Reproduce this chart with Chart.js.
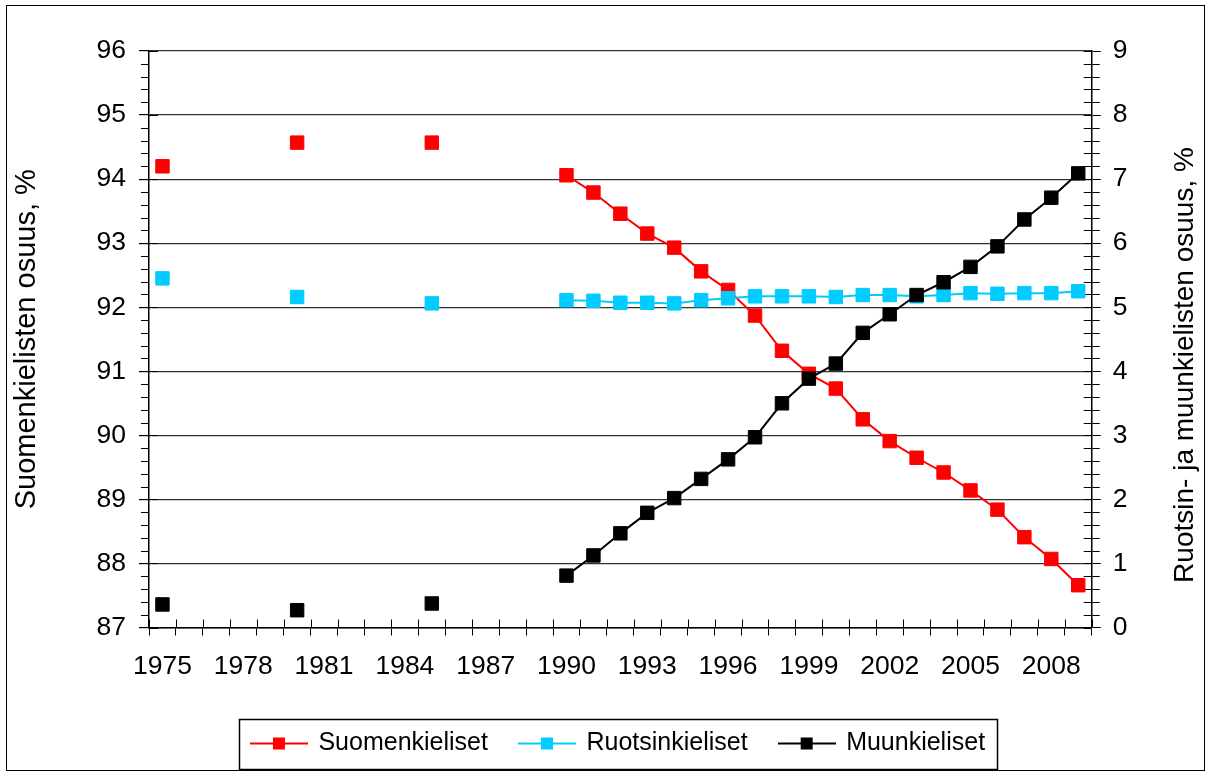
<!DOCTYPE html>
<html><head><meta charset="utf-8">
<script src="https://cdn.jsdelivr.net/npm/chart.js@4/dist/chart.umd.min.js"></script>
<style>html,body{margin:0;padding:0;background:#fff;overflow:hidden}</style>
</head><body>
<canvas id="c" width="1211" height="773"></canvas>
<script>
const years = ['1975','1976','1977','1978','1979','1980','1981','1982','1983','1984','1985','1986','1987','1988','1989',
  '1990','1991','1992','1993','1994','1995','1996','1997','1998','1999','2000','2001','2002','2003','2004','2005','2006','2007','2008','2009'];
const suomi = [94.20,null,null,null,null,94.57,null,null,null,null,94.57,null,null,null,null,
  94.06,93.79,93.46,93.15,92.93,92.56,92.27,91.87,91.32,90.96,90.73,90.25,89.91,89.65,89.42,89.14,88.84,88.41,88.07,87.66];
const ruotsi = [5.45,null,null,null,null,5.16,null,null,null,null,5.06,null,null,null,null,
  5.11,5.10,5.07,5.07,5.06,5.11,5.14,5.17,5.17,5.17,5.16,5.19,5.19,5.17,5.19,5.22,5.21,5.22,5.22,5.25];
const muu = [0.36,null,null,null,null,0.27,null,null,null,null,0.375,null,null,null,null,
  0.81,1.125,1.47,1.79,2.02,2.32,2.625,2.97,3.50,3.885,4.12,4.60,4.89,5.19,5.39,5.63,5.95,6.37,6.71,7.09];
const seriesNames = ['Suomenkieliset','Ruotsinkieliset','Muunkieliset'];
const leftTitle = 'Suomenkielisten osuus, %';
const rightTitle = 'Ruotsin- ja muunkielisten osuus, %';

const RED='#FF0000', BLUE='#00CCFF', BLACK='#000000';
const FONT = "'Liberation Sans', Arial, sans-serif";
const MINOR_PER_MAJOR = 5;

function legendIcon(color){
  const c=document.createElement('canvas'); c.width=58; c.height=16;
  const g=c.getContext('2d');
  g.strokeStyle=color; g.lineWidth=2; g.beginPath(); g.moveTo(0,8); g.lineTo(58,8); g.stroke();
  g.fillStyle=color; g.fillRect(23,2,12,12);
  return c;
}
const icons=[legendIcon(RED),legendIcon(BLUE),legendIcon(BLACK)];
const LEGEND_SHIFT = 13;

const frame = {
  id:'frame',
  afterLayout(chart){
    const lg=chart.legend;
    lg.left+=LEGEND_SHIFT; lg.right+=LEGEND_SHIFT;
    lg.legendHitBoxes.forEach(h=>{h.left+=LEGEND_SHIFT;});
  },
  beforeDraw(chart){
    const g=chart.ctx; g.save(); g.fillStyle='#fff'; g.fillRect(0,0,chart.width,chart.height); g.restore();
  },
  beforeDatasetsDraw(chart){
    const g=chart.ctx, yl=chart.scales.y, yr=chart.scales.y1, a=chart.chartArea;
    g.save(); g.strokeStyle='#000'; g.lineWidth=1; g.beginPath();
    const n=years.length, w=(a.right-a.left)/n;
    // category tick marks also reach into the plot
    for(let i=0;i<=n;i++){ const x=Math.round(a.left+i*w)+0.5; g.moveTo(x,a.bottom); g.lineTo(x,a.bottom-8); }
    // left axis: major ticks cross the axis, minor ticks outside
    yl.ticks.forEach(t=>{ const y=Math.round(yl.getPixelForValue(t.value))+0.5; g.moveTo(a.left,y); g.lineTo(a.left+9,y); });
    const lStep=(yl.max-yl.min)/((yl.ticks.length-1)*MINOR_PER_MAJOR);
    for(let k=0;k<(yl.ticks.length-1)*MINOR_PER_MAJOR;k++){
      if(k%MINOR_PER_MAJOR===0) continue;
      const y=Math.round(yl.getPixelForValue(yl.min+k*lStep))+0.5; g.moveTo(a.left-8,y); g.lineTo(a.left,y);
    }
    // right axis: all ticks cross the axis
    const rStep=(yr.max-yr.min)/((yr.ticks.length-1)*MINOR_PER_MAJOR);
    for(let k=0;k<=(yr.ticks.length-1)*MINOR_PER_MAJOR;k++){
      const y=Math.round(yr.getPixelForValue(yr.min+k*rStep))+0.5;
      g.moveTo(a.right-8,y); g.lineTo(a.right+(k%MINOR_PER_MAJOR===0?0:8),y);
    }
    g.stroke(); g.restore();
  },
  afterDraw(chart){
    const g=chart.ctx, hb=chart.legend.legendHitBoxes;
    g.save(); g.strokeStyle='#000'; g.lineWidth=1.5;
    const l=hb[0].left-13, r=hb[hb.length-1].left+hb[hb.length-1].width+12;
    const t=hb[0].top-12, b=hb[0].top+hb[0].height+13;
    g.strokeRect(Math.round(l)+0.5,Math.round(t)+0.5,Math.round(r-l),Math.round(b-t));
    g.lineWidth=1; g.strokeRect(6.5,5.5,1198,765);
    // right axis title, reading upward as in the original
    g.translate(1185, 365); g.rotate(-Math.PI/2);
    g.fillStyle='#000'; g.font="28px "+FONT; g.textAlign='center'; g.textBaseline='middle';
    g.fillText(rightTitle,0,0);
    g.restore();
  }
};

const ds = (label,data,color,axis,order)=>({
  label, data, yAxisID:axis, order,
  borderColor:color, backgroundColor:color, borderWidth:2,
  pointStyle:'rect', pointRadius:9.5, pointHoverRadius:9.5,
  pointBackgroundColor:color, pointBorderColor:color, pointBorderWidth:1,
  spanGaps:false, tension:0
});

new Chart(document.getElementById('c'),{
  type:'line',
  data:{ labels:years, datasets:[
    ds(seriesNames[0],suomi,RED,'y',3),
    ds(seriesNames[1],ruotsi,BLUE,'y1',2),
    ds(seriesNames[2],muu,BLACK,'y1',1)
  ]},
  options:{
    responsive:false, animation:false, devicePixelRatio:1,
    layout:{padding:{top:51,left:8,right:8,bottom:7}},
    font:{family:FONT},
    plugins:{
      tooltip:{enabled:false},
      legend:{
        position:'bottom',
        labels:{
          usePointStyle:true, pointStyleWidth:54, padding:32, color:'#000',
          font:{family:FONT,size:25},
          sort:(a,b)=>a.datasetIndex-b.datasetIndex,
          generateLabels(chart){
            const items=Chart.defaults.plugins.legend.labels.generateLabels(chart);
            items.forEach(it=>{ it.pointStyle=icons[it.datasetIndex]; });
            return items;
          }
        }
      }
    },
    scales:{
      x:{
        type:'category', offset:true,
        grid:{display:true, drawOnChartArea:false, drawTicks:true, tickLength:8, offset:true, color:'#000'},
        border:{display:true,color:'#000',width:1.5},
        ticks:{autoSkip:false, maxRotation:0, minRotation:0, padding:15, color:'#000',
          font:{family:FONT,size:26.5},
          callback:function(v,i){ return i%3===0 ? this.getLabelForValue(v) : ''; }},
        afterFit(s){ s.height=71.5; }
      },
      y:{
        position:'left', min:87, max:96,
        grid:{color:'#333', tickColor:'#000', tickLength:10, lineWidth:1.2},
        border:{display:true,color:'#000',width:1.5},
        ticks:{stepSize:1, padding:13, color:'#000', font:{family:FONT,size:26.5}},
        title:{display:true,text:leftTitle,color:'#000',font:{family:FONT,size:29},padding:{top:2,bottom:0}},
        afterFit(s){ s.width=141; }
      },
      y1:{
        position:'right', min:0, max:9,
        grid:{drawOnChartArea:false, color:'#000', tickColor:'#000', tickLength:9},
        border:{display:true,color:'#000',width:1.5},
        ticks:{stepSize:1, padding:12, color:'#000', font:{family:FONT,size:26.5}},
        title:{display:false,text:rightTitle},
        afterFit(s){ s.width=111.3; }
      }
    }
  },
  plugins:[frame]
});
</script>
</body></html>
